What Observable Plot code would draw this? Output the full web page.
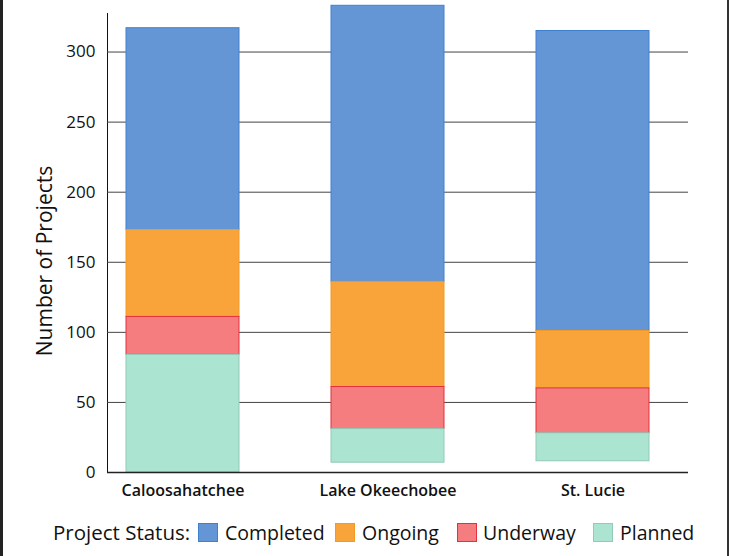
<!DOCTYPE html>
<html>
<head>
<meta charset="utf-8">
<script src="https://cdn.jsdelivr.net/npm/d3@7"></script>
<script src="https://cdn.jsdelivr.net/npm/@observablehq/plot@0.6"></script>
<style>
  html, body { margin: 0; padding: 0; background: #fff; }
  #wrap { position: relative; width: 730px; height: 556px; overflow: hidden; font-family: "Open Sans", sans-serif; color: #111; }
  .edgeL { position: absolute; left: 0; top: 0; width: 3px; height: 556px; background: #222; }
  .edgeR { position: absolute; left: 727px; top: 0; width: 2px; height: 556px; background: #333; }
  #chart svg { display: block; font-family: "Open Sans", sans-serif; }
  #chart [aria-label="x-axis tick label"] text { font-size: 16px; font-weight: 600; fill: #111; }
  #chart [aria-label="y-axis tick label"] text { font-size: 17px; fill: #111; }
  #ylabel { position: absolute; left: 44px; top: 261px; transform: translate(-50%, -50%) rotate(-90deg); white-space: nowrap; font-size: 21px; line-height: 1; }
  #legend { position: absolute; left: 0; top: 519px; width: 730px; height: 27px; font-size: 19.5px; }
  #legend > * { position: absolute; top: 0; height: 27px; line-height: 27px; white-space: nowrap; }
  #legend .lab { font-size: 20.5px; }
  #legend .sw { top: 4px; width: 20px; height: 19px; box-sizing: border-box; border: 1px solid; }
</style>
</head>
<body>
<div id="wrap">
  <div class="edgeL"></div>
  <div class="edgeR"></div>
  <div id="chart"></div>
  <div id="ylabel">Number of Projects</div>
  <div id="legend"></div>
</div>
<script>
const categories = ["Caloosahatchee", "Lake Okeechobee", "St. Lucie"];
const statuses = ["Completed", "Ongoing", "Underway", "Planned"];
const baseOffset = [0, 7, 8];
const planned = [84, 24, 20];
const underway = [27, 30, 32];
const ongoing = [62, 75, 41];
const completed = [144, 197, 214];
const yTicks = [0, 50, 100, 150, 200, 250, 300];
const fillColors = ["#6496d6", "#f9a43b", "#f57d80", "#abe4d1"];
const strokeColors = ["#3f80cf", "#f39a25", "#e3323f", "#93c9b7"];

// build stacked intervals (bottom → top: Planned, Underway, Ongoing, Completed)
const rows = [];
categories.forEach((c, i) => {
  let y = baseOffset[i];
  const seq = [["Planned", planned[i]], ["Underway", underway[i]], ["Ongoing", ongoing[i]], ["Completed", completed[i]]];
  for (const [s, v] of seq) {
    rows.push({category: c, status: s, y1: y, y2: y + v});
    y += v;
  }
});

const barMarks = statuses.map((s, k) =>
  Plot.rectY(rows.filter(r => r.status === s), {
    x: "category", y1: "y1", y2: "y2",
    fill: fillColors[k], stroke: strokeColors[k], strokeWidth: 1
  })
);

const chart = Plot.plot({
  width: 730,
  height: 505,
  marginTop: 13,
  marginBottom: 33,
  marginLeft: 107,
  marginRight: 42,
  x: {domain: categories, range: [125, 650], paddingInner: 0.45, paddingOuter: 0, tickSize: 0, tickPadding: 12, label: null},
  y: {domain: [0, 327.5], ticks: yTicks, tickSize: 0, tickPadding: 12, line: true, label: null},
  marks: [
    Plot.ruleY(yTicks.filter(v => v > 0), {stroke: "#444", strokeWidth: 1}),
    ...barMarks,
    Plot.ruleY([0], {stroke: "#222", strokeWidth: 1.5})
  ]
});
document.getElementById("chart").appendChild(chart);

// legend (HTML, below the SVG)
const legend = document.getElementById("legend");
const swatchLeft = [198, 335, 457, 593];
const textLeft = [225, 362, 483, 620];
const lab = document.createElement("span");
lab.className = "lab";
lab.textContent = "Project Status:";
lab.style.left = "53px";
legend.appendChild(lab);
statuses.forEach((s, k) => {
  const sw = document.createElement("span");
  sw.className = "sw";
  sw.style.left = swatchLeft[k] + "px";
  sw.style.background = fillColors[k];
  sw.style.borderColor = strokeColors[k];
  const t = document.createElement("span");
  t.textContent = s;
  t.style.left = textLeft[k] + "px";
  legend.appendChild(sw);
  legend.appendChild(t);
});
</script>
</body>
</html>
